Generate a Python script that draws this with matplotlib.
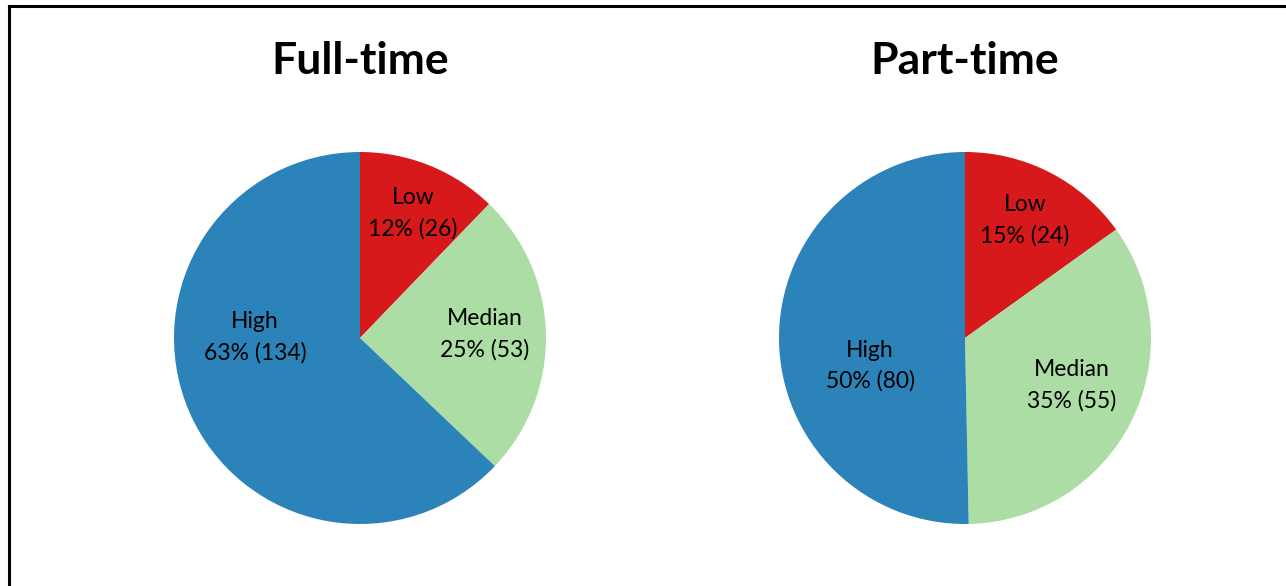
import matplotlib.pyplot as plt
from matplotlib.lines import Line2D

plt.rcParams['font.family'] = ['Lato', 'DejaVu Sans']

categories = ['Low', 'Median', 'High']
colors = ['#d7191c', '#abdda4', '#2b83ba']

titles = ['Full-time', 'Part-time']
full_time = [26, 53, 134]
part_time = [24, 55, 80]

# label centres, in units of pie radius (hand placed like the original)
full_pos = [(0.285, 0.672), (0.672, 0.02), (-0.565, 0.005)]
part_pos = [(0.323, 0.634), (0.575, -0.253), (-0.51, -0.15)]

W, H = 1286, 586
fig = plt.figure(figsize=(W / 100, H / 100), dpi=100)


def draw_pie(cx, cy, r, counts, pos, title):
    ax = fig.add_axes([(cx - r) / W, (H - cy - r) / H, 2 * r / W, 2 * r / H])
    ax.pie(counts, colors=colors, startangle=90, counterclock=False,
           radius=1, wedgeprops=dict(linewidth=0))
    ax.set_xlim(-1, 1)
    ax.set_ylim(-1, 1)
    ax.set_aspect('equal')
    total = sum(counts)
    for cat, n, (x, y) in zip(categories, counts, pos):
        pct = round(100 * n / total)
        ax.text(x, y, f'{cat}\n{pct}% ({n})', ha='center', va='center',
                fontsize=16.5, linespacing=1.55, color='black')
    fig.text(cx / W, 1 - 61 / H, title, ha='center', va='center',
             fontsize=32, fontweight='bold')


draw_pie(360, 338, 186, full_time, full_pos, titles[0])
draw_pie(965, 338, 186, part_time, part_pos, titles[1])

# frame (only top and left edges show in the crop)
fig.add_artist(Line2D([8.5 / W, 8.5 / W], [0, 1 - 6 / H], color='black', lw=2.2))
fig.add_artist(Line2D([8.5 / W, 1], [1 - 6 / H, 1 - 6 / H], color='black', lw=2.2))

fig.savefig('out.png', dpi=100)
